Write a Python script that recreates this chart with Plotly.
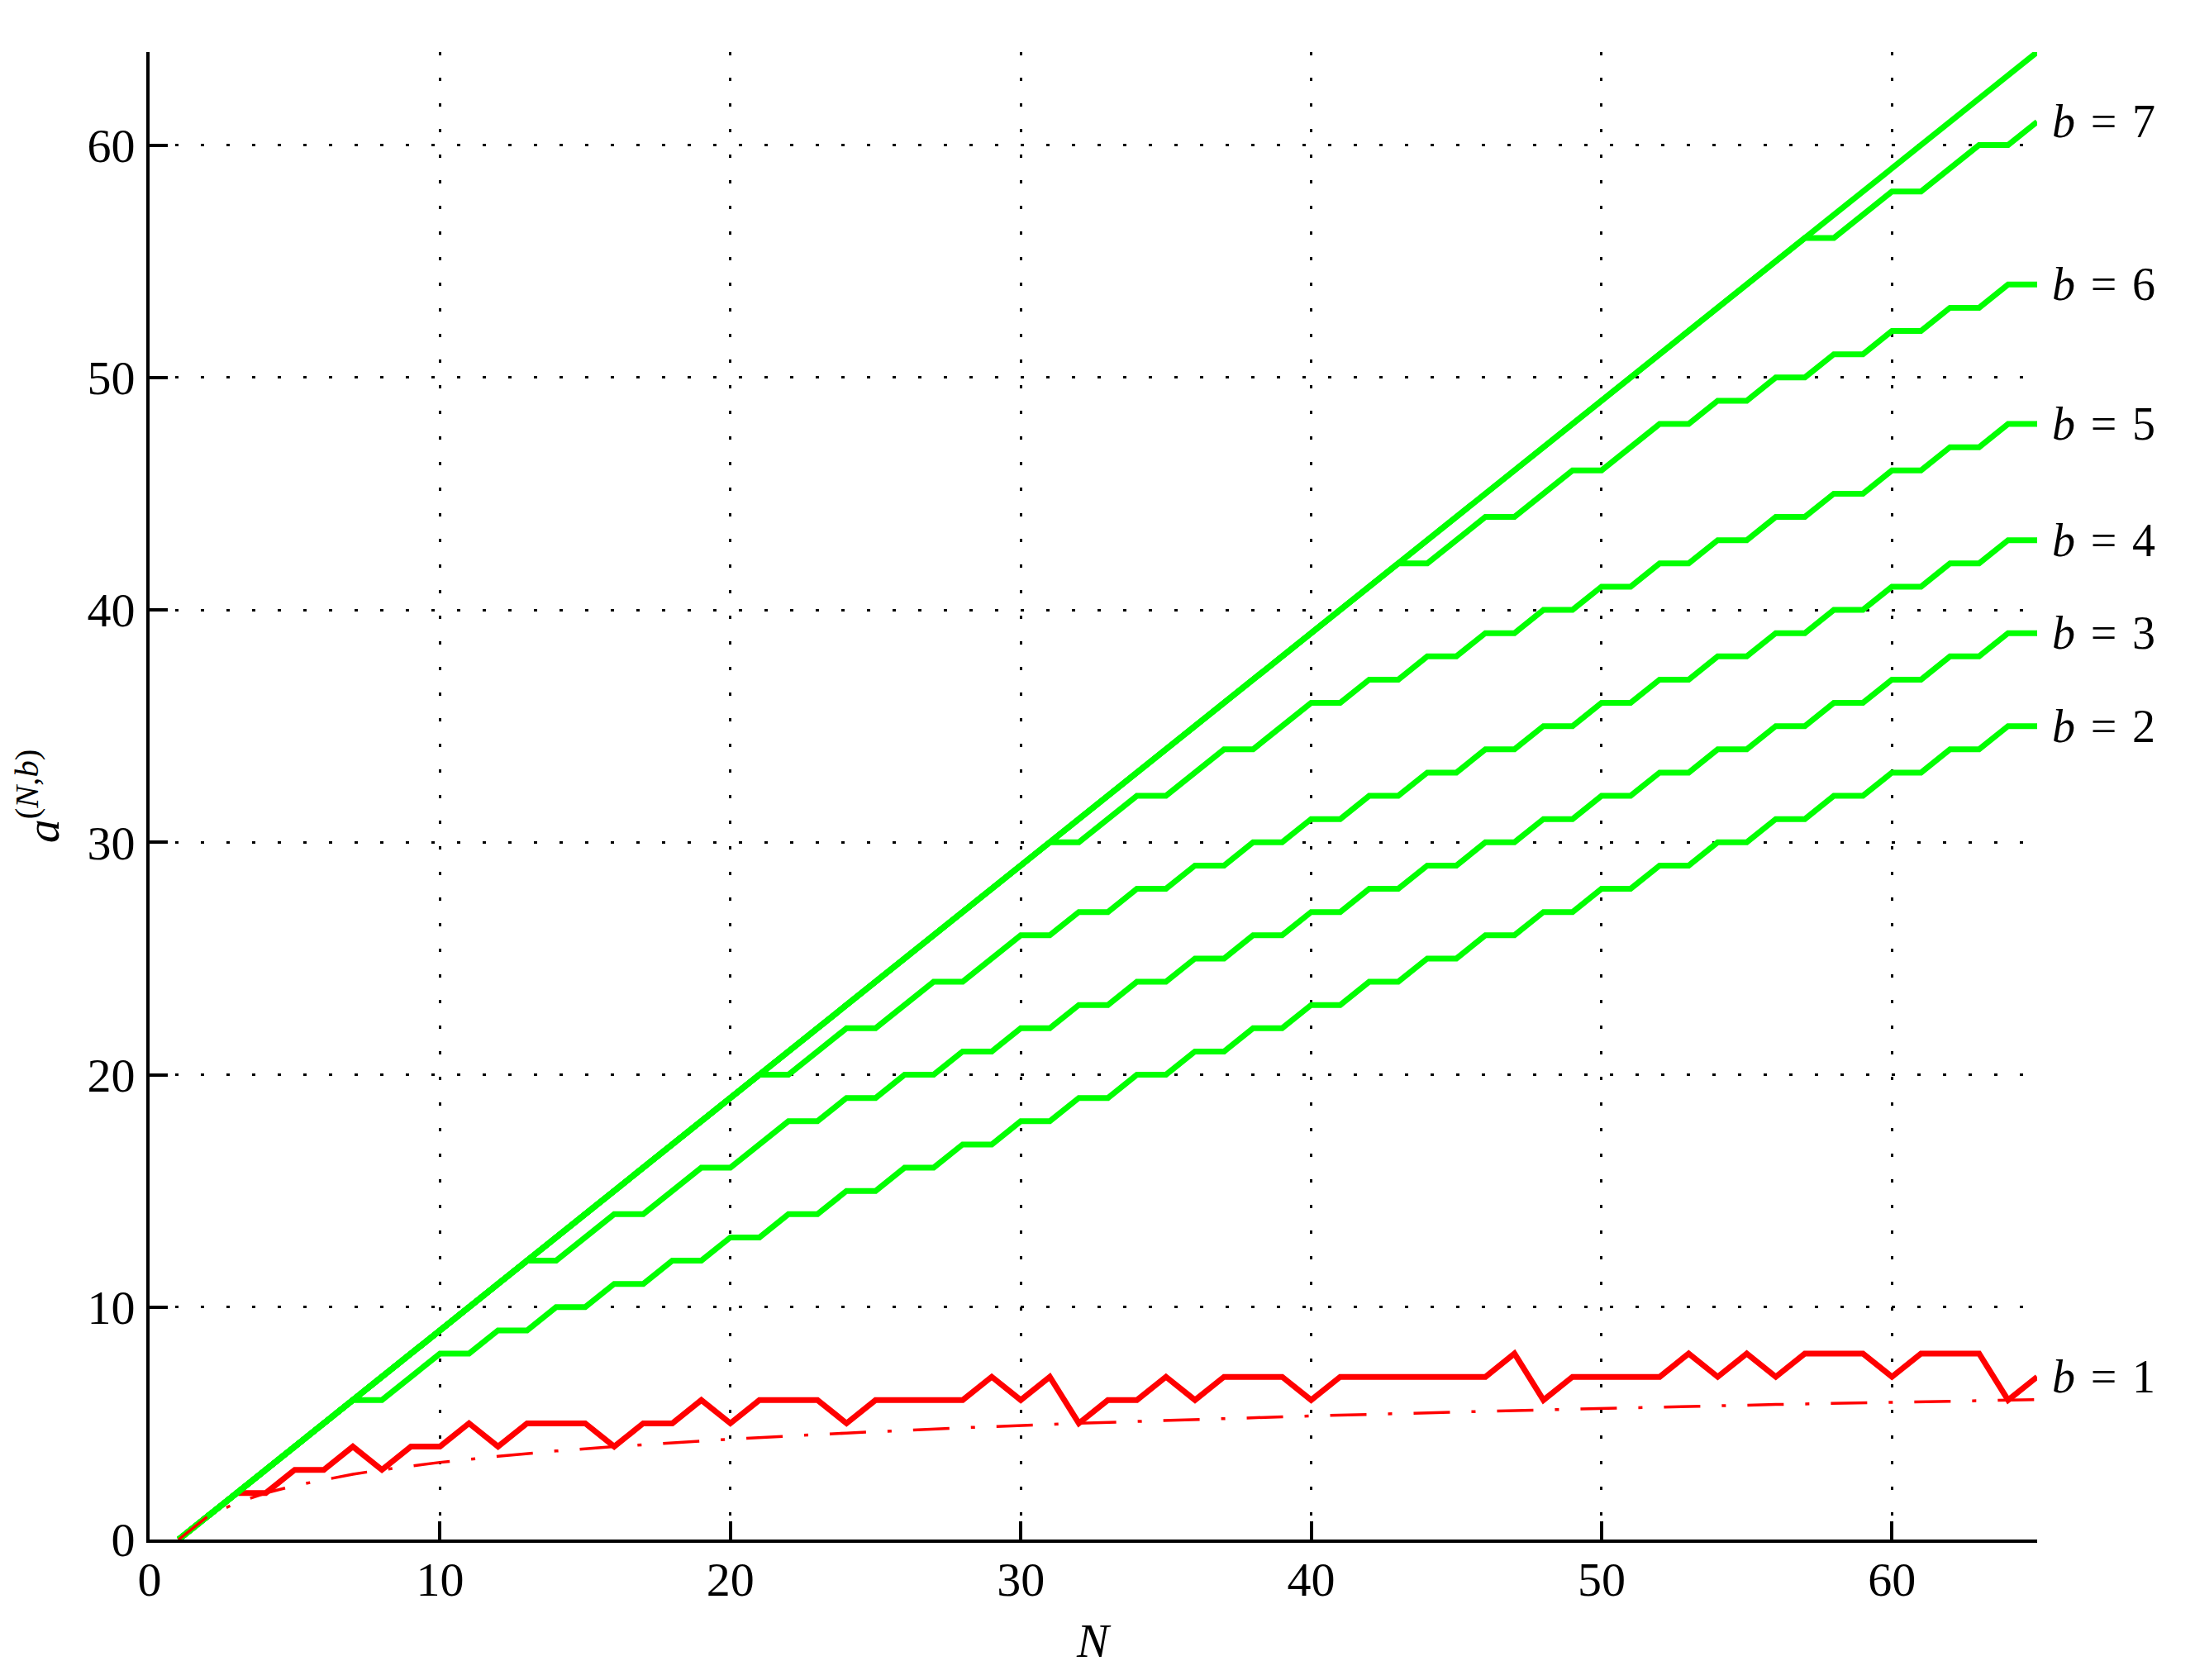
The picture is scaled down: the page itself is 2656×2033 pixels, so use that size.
import plotly.graph_objects as go

# ---------------- data ----------------
N = [1, 2, 3, 4, 5, 6, 7, 8, 9, 10, 11, 12, 13, 14, 15, 16, 17, 18, 19, 20,
     21, 22, 23, 24, 25, 26, 27, 28, 29, 30, 31, 32, 33, 34, 35, 36, 37, 38, 39, 40,
     41, 42, 43, 44, 45, 46, 47, 48, 49, 50, 51, 52, 53, 54, 55, 56, 57, 58, 59, 60,
     61, 62, 63, 64, 65]

# upper straight line (all green curves follow it until they split off)
top = [0, 1, 2, 3, 4, 5, 6, 7, 8, 9, 10, 11, 12, 13, 14, 15, 16, 17, 18, 19,
       20, 21, 22, 23, 24, 25, 26, 27, 28, 29, 30, 31, 32, 33, 34, 35, 36, 37, 38, 39,
       40, 41, 42, 43, 44, 45, 46, 47, 48, 49, 50, 51, 52, 53, 54, 55, 56, 57, 58, 59,
       60, 61, 62, 63, 64]

b2 = [0, 1, 2, 3, 4, 5, 6, 6, 7, 8, 8, 9, 9, 10, 10, 11, 11, 12, 12, 13,
      13, 14, 14, 15, 15, 16, 16, 17, 17, 18, 18, 19, 19, 20, 20, 21, 21, 22, 22, 23,
      23, 24, 24, 25, 25, 26, 26, 27, 27, 28, 28, 29, 29, 30, 30, 31, 31, 32, 32, 33,
      33, 34, 34, 35, 35]

b3 = [0, 1, 2, 3, 4, 5, 6, 7, 8, 9, 10, 11, 12, 12, 13, 14, 14, 15, 16, 16,
      17, 18, 18, 19, 19, 20, 20, 21, 21, 22, 22, 23, 23, 24, 24, 25, 25, 26, 26, 27,
      27, 28, 28, 29, 29, 30, 30, 31, 31, 32, 32, 33, 33, 34, 34, 35, 35, 36, 36, 37,
      37, 38, 38, 39, 39]

b4 = [0, 1, 2, 3, 4, 5, 6, 7, 8, 9, 10, 11, 12, 13, 14, 15, 16, 17, 18, 19,
      20, 20, 21, 22, 22, 23, 24, 24, 25, 26, 26, 27, 27, 28, 28, 29, 29, 30, 30, 31,
      31, 32, 32, 33, 33, 34, 34, 35, 35, 36, 36, 37, 37, 38, 38, 39, 39, 40, 40, 41,
      41, 42, 42, 43, 43]

b5 = [0, 1, 2, 3, 4, 5, 6, 7, 8, 9, 10, 11, 12, 13, 14, 15, 16, 17, 18, 19,
      20, 21, 22, 23, 24, 25, 26, 27, 28, 29, 30, 30, 31, 32, 32, 33, 34, 34, 35, 36,
      36, 37, 37, 38, 38, 39, 39, 40, 40, 41, 41, 42, 42, 43, 43, 44, 44, 45, 45, 46,
      46, 47, 47, 48, 48]

b6 = [0, 1, 2, 3, 4, 5, 6, 7, 8, 9, 10, 11, 12, 13, 14, 15, 16, 17, 18, 19,
      20, 21, 22, 23, 24, 25, 26, 27, 28, 29, 30, 31, 32, 33, 34, 35, 36, 37, 38, 39,
      40, 41, 42, 42, 43, 44, 44, 45, 46, 46, 47, 48, 48, 49, 49, 50, 50, 51, 51, 52,
      52, 53, 53, 54, 54]

b7 = [0, 1, 2, 3, 4, 5, 6, 7, 8, 9, 10, 11, 12, 13, 14, 15, 16, 17, 18, 19,
      20, 21, 22, 23, 24, 25, 26, 27, 28, 29, 30, 31, 32, 33, 34, 35, 36, 37, 38, 39,
      40, 41, 42, 43, 44, 45, 46, 47, 48, 49, 50, 51, 52, 53, 54, 55, 56, 56, 57, 58,
      58, 59, 60, 60, 61]

b1 = [0, 1, 2, 2, 3, 3, 4, 3, 4, 4, 5, 4, 5, 5, 5, 4, 5, 5, 6, 5,
      6, 6, 6, 5, 6, 6, 6, 6, 7, 6, 7, 5, 6, 6, 7, 6, 7, 7, 7, 6,
      7, 7, 7, 7, 7, 7, 8, 6, 7, 7, 7, 7, 8, 7, 8, 7, 8, 8, 8, 7,
      8, 8, 8, 6, 7]

# dash-dot reference curve
ref_N = [1, 2, 3, 4, 5, 6, 7, 8, 10, 12, 14, 16, 20, 24, 28, 32, 40, 48, 56, 65]
ref_y = [0, 1, 1.58, 2, 2.32, 2.58, 2.81, 3, 3.32, 3.58, 3.81, 4, 4.32, 4.58,
         4.81, 5, 5.32, 5.58, 5.81, 6.02]

green_series = [top, b2, b3, b4, b5, b6, b7]
label_names = ["1", "2", "3", "4", "5", "6", "7"]
label_series = [b1, b2, b3, b4, b5, b6, b7]

x_ticks = [0, 10, 20, 30, 40, 50, 60]
y_ticks = [0, 10, 20, 30, 40, 50, 60]

# ---------------- figure ----------------
GREEN = "#00FF00"
RED = "#FF0000"
FONT = "Liberation Serif"

fig = go.Figure()

fig.add_trace(go.Scatter(x=N, y=b1, mode="lines",
                         line=dict(color=RED, width=7), hoverinfo="skip"))
for s in green_series:
    fig.add_trace(go.Scatter(x=N, y=s, mode="lines",
                             line=dict(color=GREEN, width=7), hoverinfo="skip"))
fig.add_trace(go.Scatter(x=ref_N, y=ref_y, mode="lines",
                         line=dict(color=RED, width=3.5, dash="44px,26px,5px,26px"),
                         hoverinfo="skip"))

# curve labels
SP = "&#8196;"
for name, s in zip(label_names, label_series):
    fig.add_annotation(x=N[-1], y=s[-1], xref="x", yref="y",
                       text=f"<i>b</i>{SP}={SP}{name}",
                       showarrow=False, xanchor="left", yanchor="middle", xshift=16,
                       font=dict(family=FONT, size=56, color="black"))

# axis titles
fig.add_annotation(x=0.5, y=-0.068, xref="paper", yref="paper", text="<i>N</i>",
                   showarrow=False, xanchor="center", yanchor="middle",
                   font=dict(family=FONT, size=58, color="black"))
fig.add_annotation(x=-0.059, y=0.5, xref="paper", yref="paper",
                   text="<i>a</i><sup>(<i>N</i>,<i>b</i>)</sup>", textangle=-90,
                   showarrow=False, xanchor="center", yanchor="middle",
                   font=dict(family=FONT, size=58, color="black"))

axis_common = dict(
    showline=True, linecolor="black", linewidth=4,
    ticks="inside", ticklen=22, tickwidth=4, tickcolor="black",
    showgrid=True, gridcolor="black", gridwidth=3, griddash="4px,27px",
    zeroline=False, mirror=False,
    tickfont=dict(family=FONT, size=58, color="black"),
)

fig.update_xaxes(range=[0, 65], tickvals=x_ticks, ticktext=[str(v) for v in x_ticks],
                 ticklabelstandoff=-6, **axis_common)
fig.update_yaxes(range=[0, 64], tickvals=y_ticks, ticktext=[str(v) for v in y_ticks],
                 ticklabelstandoff=2, **axis_common)

# page body has an 8px margin: size the figure so plot area lands where the reference has it
fig.update_layout(
    width=2640, height=2017,
    margin=dict(l=173, r=183, t=55, b=162),
    plot_bgcolor="white", paper_bgcolor="white",
    showlegend=False,
)

fig.write_html("out.html")
